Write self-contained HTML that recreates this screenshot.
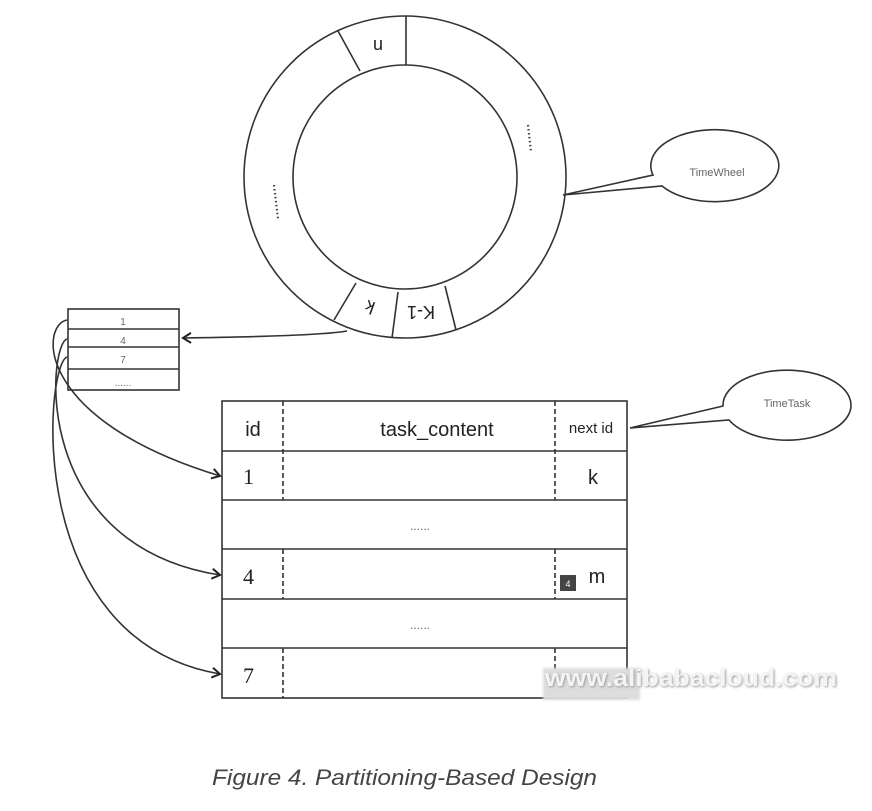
<!DOCTYPE html>
<html><head><meta charset="utf-8"><style>
html,body{margin:0;padding:0;background:#fff;width:872px;height:811px;overflow:hidden}
svg{display:block}
</style></head><body>
<svg width="872" height="811" viewBox="0 0 872 811" xmlns="http://www.w3.org/2000/svg">
<defs>
<marker id="ah" markerWidth="12" markerHeight="12" refX="10" refY="6" orient="auto" markerUnits="userSpaceOnUse">
<path d="M2,1 L10,6 L2,11" fill="none" stroke="#222" stroke-width="2"/>
</marker>
<filter id="bl"><feGaussianBlur stdDeviation="1.2"/></filter>
</defs>
<g fill="none" stroke="#333" stroke-width="1.6">
<circle cx="405" cy="177" r="161"/>
<circle cx="405" cy="177" r="112"/>
<line x1="406" y1="16" x2="406" y2="65"/>
<line x1="338" y1="31" x2="360" y2="71"/>
<line x1="334" y1="320" x2="356" y2="283"/>
<line x1="392" y1="338" x2="398" y2="292"/>
<line x1="456" y1="330" x2="445" y2="286"/>
<path d="M653,175 A64,36 0 1,1 662,186 L563,195 L653,175 Z" fill="#fff"/>
<path d="M723,406 A64,35 0 1,1 729,420 L630,428 L723,406 Z" fill="#fff"/>
<path d="M347,331 Q320,336 183,338" marker-end="url(#ah)"/>
<rect x="68" y="309" width="111" height="81"/>
<line x1="68" y1="329" x2="179" y2="329"/>
<line x1="68" y1="347" x2="179" y2="347"/>
<line x1="68" y1="369" x2="179" y2="369"/>
<path d="M67,320 C40,325 35,420 220,476" marker-end="url(#ah)"/>
<path d="M67,339 C48,345 30,545 220,575" marker-end="url(#ah)"/>
<path d="M67,357 C45,365 22,640 220,674" marker-end="url(#ah)"/>
<rect x="222" y="401" width="405" height="297"/>
<line x1="222" y1="451" x2="627" y2="451"/>
<line x1="222" y1="500" x2="627" y2="500"/>
<line x1="222" y1="549" x2="627" y2="549"/>
<line x1="222" y1="599" x2="627" y2="599"/>
<line x1="222" y1="648" x2="627" y2="648"/>
</g>
<g stroke="#333" stroke-width="1.6" stroke-dasharray="5,3">
<line x1="283" y1="401" x2="283" y2="500"/>
<line x1="555" y1="401" x2="555" y2="500"/>
<line x1="283" y1="549" x2="283" y2="599"/>
<line x1="555" y1="549" x2="555" y2="599"/>
<line x1="283" y1="648" x2="283" y2="698"/>
<line x1="555" y1="648" x2="555" y2="698"/>
</g>
<g stroke="#444" stroke-width="2.2" stroke-dasharray="1.5,2.5">
<line x1="528" y1="125" x2="531" y2="152"/>
<line x1="274" y1="185" x2="278" y2="219"/>
</g>
<g font-family="Liberation Sans, sans-serif" fill="#222">
<text x="378" y="52" font-size="18" transform="rotate(180 378 46)" text-anchor="middle">n</text>
<text x="370" y="313" font-size="18" transform="rotate(200 370 307)" text-anchor="middle">k</text>
<text x="421" y="318" font-size="18" transform="rotate(180 421 312)" text-anchor="middle">K-1</text>
<text x="717" y="176" font-size="11" text-anchor="middle" fill="#666">TimeWheel</text>
<text x="787" y="407" font-size="11" text-anchor="middle" fill="#666">TimeTask</text>
<text x="123" y="325" font-size="10" text-anchor="middle" fill="#666">1</text>
<text x="123" y="344" font-size="10" text-anchor="middle" fill="#666">4</text>
<text x="123" y="363" font-size="10" text-anchor="middle" fill="#666">7</text>
<text x="123" y="386" font-size="10" text-anchor="middle" fill="#666">......</text>
<text x="253" y="436" font-size="20" text-anchor="middle">id</text>
<text x="437" y="436" font-size="20" text-anchor="middle">task_content</text>
<text x="591" y="433" font-size="15" text-anchor="middle">next id</text>
<text x="593" y="484" font-size="20" text-anchor="middle">k</text>
<text x="597" y="583" font-size="20" text-anchor="middle">m</text>
<text x="420" y="530" font-size="12" text-anchor="middle" fill="#666">......</text>
<text x="420" y="629" font-size="12" text-anchor="middle" fill="#666">......</text>
</g>
<g font-family="Liberation Serif, serif" fill="#222" font-size="22">
<text x="243" y="484">1</text>
<text x="243" y="584">4</text>
<text x="243" y="683">7</text>
</g>
<rect x="560" y="575" width="16" height="16" fill="#444"/>
<text x="568" y="587" font-family="Liberation Sans, sans-serif" font-size="9" fill="#fff" text-anchor="middle">4</text>
<rect x="543" y="668" width="97" height="32" fill="#ddd" filter="url(#bl)"/>
<text x="546" y="687" textLength="292" lengthAdjust="spacingAndGlyphs" font-family="Liberation Sans, sans-serif" font-size="24" font-weight="bold" fill="#999" filter="url(#bl)">www.alibabacloud.com</text>
<text x="545" y="686" textLength="292" lengthAdjust="spacingAndGlyphs" font-family="Liberation Sans, sans-serif" font-size="24" font-weight="bold" fill="#f4f4f4">www.alibabacloud.com</text>
<text x="212" y="785" textLength="385" lengthAdjust="spacingAndGlyphs" font-family="Liberation Sans, sans-serif" font-size="22" font-style="italic" fill="#444">Figure 4. Partitioning-Based Design</text>
</svg>
</body></html>
